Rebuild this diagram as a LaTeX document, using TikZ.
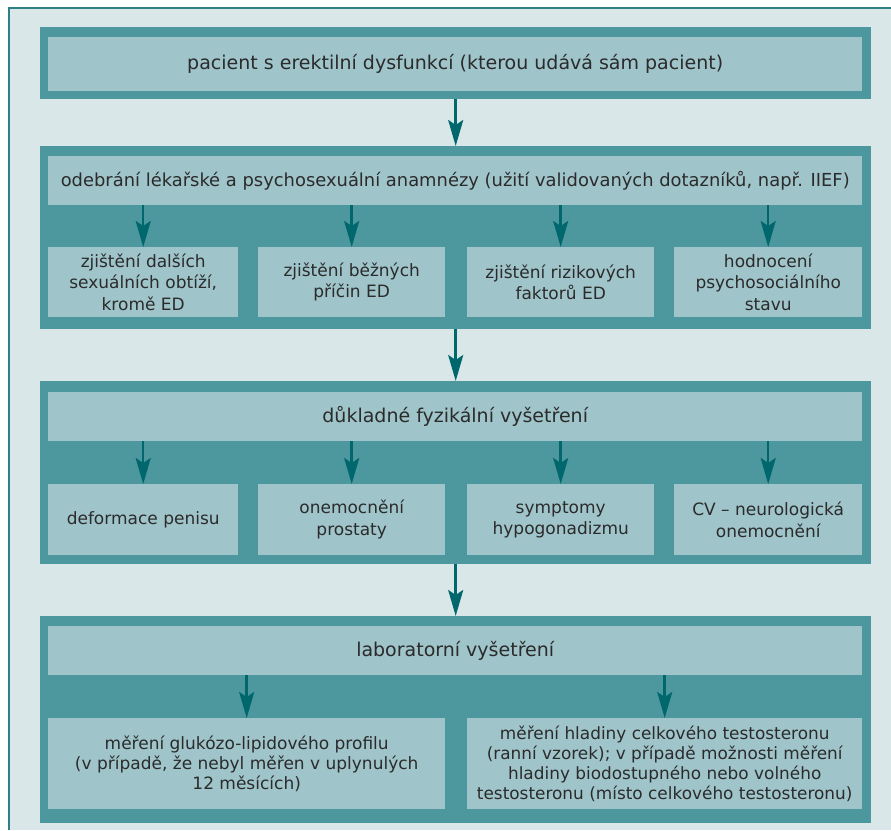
\documentclass[tikz,border=0pt]{standalone}
\usepackage{fontspec}
\setmainfont{DejaVu Sans}
\usetikzlibrary{arrows.meta,positioning}
\definecolor{pagebg}{HTML}{DAE7E8}
\definecolor{panelcol}{HTML}{4D979F}
\definecolor{boxcol}{HTML}{9FC4CA}
\definecolor{arrcol}{HTML}{00676D}
\definecolor{framecol}{HTML}{2E8087}
\definecolor{txtcol}{HTML}{2B2B2B}
\tikzset{
  panel/.style={fill=panelcol, anchor=north west, inner sep=0pt, minimum width=831pt},
  titlebox/.style={fill=boxcol, anchor=north west, inner sep=0pt, text=txtcol,
    minimum width=814pt, font=\fontsize{19}{23}\selectfont},
  subbox/.style={fill=boxcol, anchor=north west, inner sep=0pt, text=txtcol,
    align=center, font=\fontsize{17}{21.5}\selectfont},
  flow/.style={draw=arrcol, line width=2.5pt, -{Stealth[length=26pt 0,width=15pt 0,inset=5pt]}}
}

\begin{document}
\begin{tikzpicture}[x=1pt, y=-1pt]
  \useasboundingbox (0,0) rectangle (891,830);
  % draw background frame
  \fill[white] (0,0) rectangle (891,830);
  \fill[pagebg] (9,8) rectangle (891,830);
  \draw[framecol, line width=1.5pt] (9,830) -- (9,8) -- (891,8);
  % draw panels
  \node[panel, minimum height=72pt]  (p1) at (40,27)  {};
  \node[panel, minimum height=183pt] (p2) at (40,146) {};
  \node[panel, minimum height=183pt] (p3) at (40,381) {};
  \node[panel, minimum height=207pt] (p4) at (40,616) {};
  % draw titles
  \node[titlebox, minimum height=54pt] (t1) at (48,37)
    {pacient s erektilní dysfunkcí (kterou udává sám pacient)};
  \node[titlebox, minimum height=49pt, font=\fontsize{17.9}{23}\selectfont] (t2) at (48,156)
    {odebrání lékařské a psychosexuální anamnézy (užití validovaných dotazníků, např. IIEF)};
  \node[titlebox, minimum height=49pt] (t3) at (48,392) {důkladné fyzikální vyšetření};
  \node[titlebox, minimum height=49pt] (t4) at (48,626) {laboratorní vyšetření};
  % draw anamnesis boxes
  \node[subbox, minimum width=190pt, minimum height=70pt] (a1) at (48,247)
    {zjištění dalších\\sexuálních obtíží,\\kromě ED};
  \node[subbox, minimum width=187pt, minimum height=70pt] (a2) at (258,247)
    {zjištění běžných\\příčin ED};
  \node[subbox, minimum width=187pt, minimum height=70pt] (a3) at (467,247)
    {zjištění rizikových\\faktorů ED};
  \node[subbox, minimum width=188pt, minimum height=70pt] (a4) at (674,247)
    {hodnocení\\psychosociálního\\stavu};
  % draw examination boxes
  \node[subbox, minimum width=190pt, minimum height=71pt] (e1) at (48,484)
    {deformace penisu};
  \node[subbox, minimum width=187pt, minimum height=71pt] (e2) at (258,484)
    {onemocnění\\prostaty};
  \node[subbox, minimum width=187pt, minimum height=71pt] (e3) at (467,484)
    {symptomy\\hypogonadizmu};
  \node[subbox, minimum width=188pt, minimum height=71pt] (e4) at (674,484)
    {CV – neurologická\\onemocnění};
  % draw laboratory boxes
  \node[subbox, minimum width=397pt, minimum height=91pt, font=\fontsize{17}{20}\selectfont] (l1) at (48,718)
    {měření glukózo-lipidového profilu\\(v případě, že nebyl měřen v uplynulých\\12 měsících)};
  \node[subbox, minimum width=395pt, minimum height=91pt, font=\fontsize{16.9}{20}\selectfont] (l2) at (467,718)
    {měření hladiny celkového testosteronu\\(ranní vzorek); v případě možnosti měření\\hladiny biodostupného nebo volného\\testosteronu (místo celkového testosteronu)};
  % draw arrows between panels
  \draw[flow] (p1.south) -- (p2.north);
  \draw[flow] (p2.south) -- (p3.north);
  \draw[flow] (p3.south) -- (p4.north);
  % draw arrows inside panels
  \draw[flow] (a1.north |- t2.south) -- (a1.north);
  \draw[flow] (a2.north |- t2.south) -- (a2.north);
  \draw[flow] (a3.north |- t2.south) -- (a3.north);
  \draw[flow] (a4.north |- t2.south) -- (a4.north);
  \draw[flow] (e1.north |- t3.south) -- (e1.north);
  \draw[flow] (e2.north |- t3.south) -- (e2.north);
  \draw[flow] (e3.north |- t3.south) -- (e3.north);
  \draw[flow] (e4.north |- t3.south) -- (e4.north);
  \draw[flow] (l1.north |- t4.south) -- (l1.north);
  \draw[flow] (l2.north |- t4.south) -- (l2.north);
\end{tikzpicture}
\end{document}
